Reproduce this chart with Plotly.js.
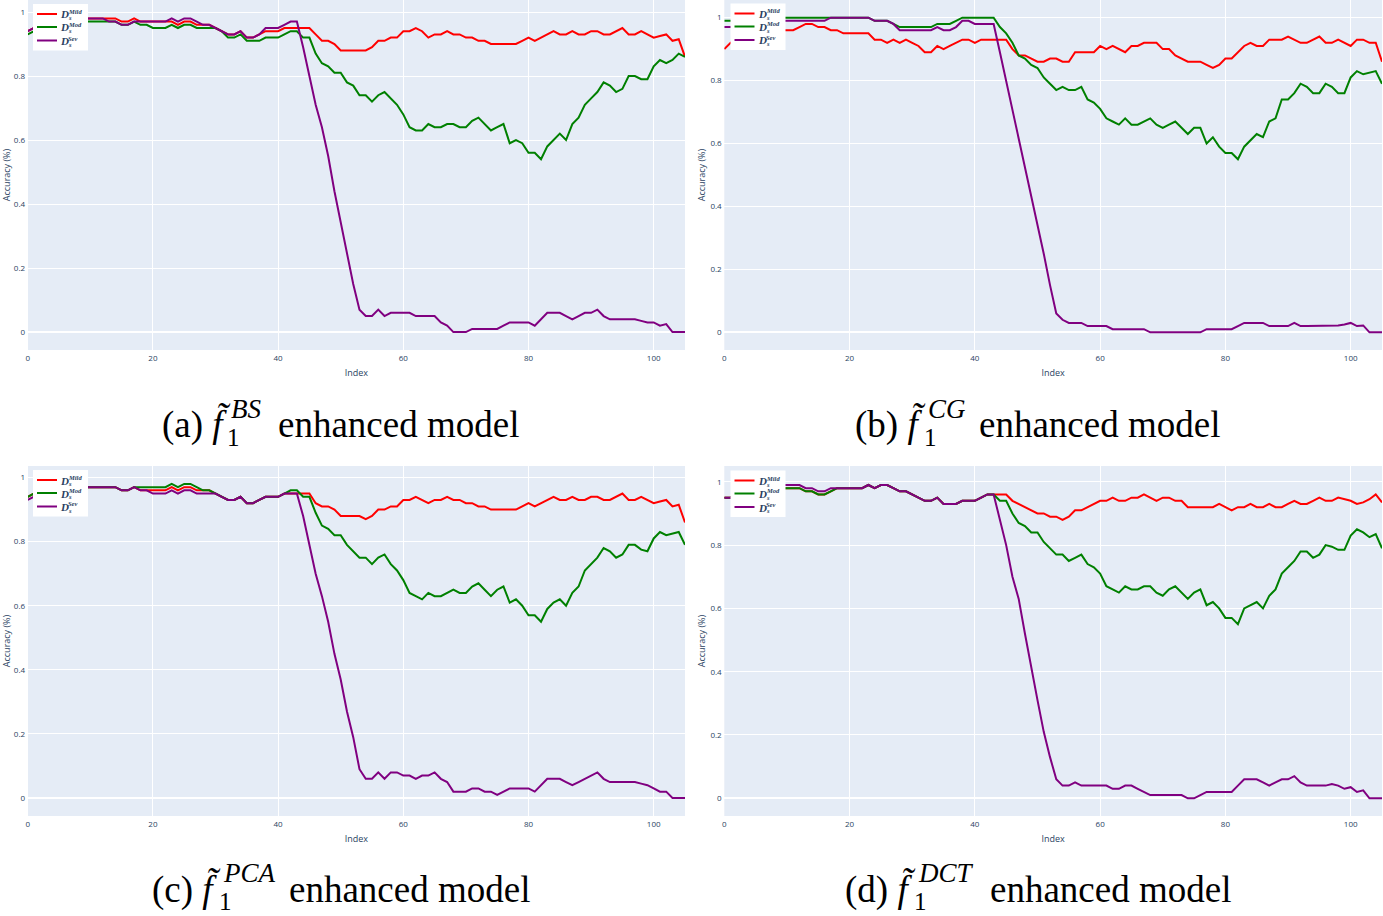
<!DOCTYPE html>
<html>
<head>
<meta charset="utf-8">
<script src="https://cdn.plot.ly/plotly-3.0.1.min.js"></script>
<style>html,body{margin:0;padding:0;background:#fff;}#chart{width:1383px;height:916px;}</style>
</head>
<body>
<div id="chart"></div>
<script>
// ---- data (accuracy per index, 0..105) ----
const seriesBase = ['D', 'D', 'D'];
const seriesSub = ['s', 's', 's'];
const seriesSup = ['Mild', 'Mod', 'Sev'];
const seriesColors = ['red', 'green', 'purple'];
const xTickVals = [0, 20, 40, 60, 80, 100];
const yTickVals = [0, 0.2, 0.4, 0.6, 0.8, 1];

const aRed = [0.94,0.95,0.96,0.96,0.97,0.97,0.97,0.98,0.98,0.98, 0.98,0.98,0.98,0.98,0.98,0.97,0.97,0.98,0.97,0.97,
0.97,0.97,0.97,0.97,0.96,0.97,0.97,0.96,0.96,0.96, 0.95,0.94,0.93,0.93,0.94,0.92,0.92,0.93,0.94,0.94,
0.94,0.95,0.95,0.95,0.95,0.95,0.93,0.91,0.91,0.90, 0.88,0.88,0.88,0.88,0.88,0.89,0.91,0.91,0.92,0.92,
0.94,0.94,0.95,0.94,0.92,0.93,0.93,0.94,0.93,0.93, 0.92,0.92,0.91,0.91,0.90,0.90,0.90,0.90,0.90,0.91,
0.92,0.91,0.92,0.93,0.94,0.93,0.93,0.94,0.93,0.93, 0.94,0.94,0.93,0.93,0.94,0.95,0.93,0.93,0.94,0.93,
0.92,0.925,0.93,0.91,0.915,0.86];
const aGreen = [0.93,0.94,0.95,0.95,0.96,0.96,0.96,0.97,0.97,0.97, 0.97,0.97,0.97,0.97,0.97,0.96,0.96,0.97,0.96,0.96,
0.95,0.95,0.95,0.96,0.95,0.96,0.96,0.95,0.95,0.95, 0.95,0.94,0.92,0.92,0.93,0.91,0.91,0.91,0.92,0.92,
0.92,0.93,0.94,0.94,0.92,0.92,0.87,0.84,0.83,0.81, 0.81,0.78,0.77,0.74,0.74,0.72,0.74,0.75,0.73,0.71,
0.68,0.64,0.63,0.63,0.65,0.64,0.64,0.65,0.65,0.64, 0.64,0.66,0.67,0.65,0.63,0.64,0.65,0.59,0.60,0.59,
0.56,0.56,0.54,0.58,0.60,0.62,0.60,0.65,0.67,0.71, 0.73,0.75,0.78,0.77,0.75,0.76,0.80,0.80,0.79,0.79,
0.83,0.85,0.84,0.85,0.87,0.86];
const aPurple = [0.94,0.95,0.96,0.96,0.97,0.97,0.97,0.98,0.98,0.98, 0.98,0.98,0.98,0.97,0.97,0.96,0.96,0.97,0.97,0.97,
0.97,0.97,0.97,0.98,0.97,0.98,0.98,0.97,0.96,0.96, 0.95,0.94,0.93,0.93,0.94,0.92,0.92,0.93,0.95,0.95,
0.95,0.96,0.97,0.97,0.89,0.80,0.71,0.64,0.55,0.44, 0.34,0.24,0.15,0.07,0.05,0.05,0.07,0.05,0.06,0.06,
0.06,0.06,0.05,0.05,0.05,0.05,0.03,0.02,0.00,0.00, 0.00,0.01,0.01,0.01,0.01,0.01,0.02,0.03,0.03,0.03,
0.03,0.02,0.04,0.06,0.06,0.06,0.05,0.04,0.05,0.06, 0.06,0.07,0.05,0.04,0.04,0.04,0.04,0.04,0.035,0.03,
0.03,0.02,0.025,0.00,0.00,0.00];

const bRed = [0.90,0.92,0.93,0.94,0.95,0.95,0.96,0.96,0.96,0.96, 0.96,0.96,0.97,0.98,0.98,0.97,0.97,0.96,0.96,0.95,
0.95,0.95,0.95,0.95,0.93,0.93,0.92,0.93,0.92,0.93, 0.92,0.91,0.89,0.89,0.91,0.90,0.91,0.92,0.93,0.93,
0.92,0.93,0.93,0.93,0.93,0.93,0.90,0.88,0.88,0.87, 0.86,0.86,0.87,0.87,0.86,0.86,0.89,0.89,0.89,0.89,
0.91,0.90,0.91,0.90,0.89,0.91,0.91,0.92,0.92,0.92, 0.90,0.90,0.88,0.87,0.86,0.86,0.86,0.85,0.84,0.85,
0.87,0.87,0.89,0.91,0.92,0.91,0.91,0.93,0.93,0.93, 0.94,0.93,0.92,0.92,0.93,0.94,0.92,0.92,0.93,0.92,
0.91,0.93,0.93,0.92,0.92,0.86];
const bGreen = [0.99,0.99,0.99,1.0,1.0,1.0,1.0,1.0,1.0,1.0, 1.0,1.0,1.0,1.0,1.0,1.0,1.0,1.0,1.0,1.0,
1.0,1.0,1.0,1.0,0.99,0.99,0.99,0.98,0.97,0.97, 0.97,0.97,0.97,0.97,0.98,0.98,0.98,0.99,1.0,1.0,
1.0,1.0,1.0,1.0,0.97,0.95,0.92,0.88,0.87,0.85, 0.84,0.81,0.79,0.77,0.78,0.77,0.77,0.78,0.74,0.73,
0.71,0.68,0.67,0.66,0.68,0.66,0.66,0.67,0.68,0.66, 0.65,0.66,0.67,0.65,0.63,0.65,0.65,0.60,0.62,0.59,
0.57,0.57,0.55,0.59,0.61,0.63,0.62,0.67,0.68,0.74, 0.74,0.76,0.79,0.78,0.76,0.76,0.79,0.78,0.76,0.76,
0.81,0.83,0.82,0.825,0.83,0.79];
const bPurple = [0.97,0.97,0.98,0.98,0.98,0.99,0.99,0.99,0.99,0.99, 0.99,0.99,0.99,0.99,0.99,0.99,0.99,1.0,1.0,1.0,
1.0,1.0,1.0,1.0,0.99,0.99,0.99,0.98,0.96,0.96, 0.96,0.96,0.96,0.96,0.97,0.96,0.96,0.97,0.99,0.99,
0.98,0.98,0.98,0.98,0.89,0.80,0.70,0.61,0.52,0.43, 0.34,0.25,0.15,0.06,0.04,0.03,0.03,0.03,0.02,0.02,
0.02,0.02,0.01,0.01,0.01,0.01,0.01,0.01,0.00,0.00, 0.00,0.00,0.00,0.00,0.00,0.00,0.00,0.01,0.01,0.01,
0.01,0.01,0.02,0.03,0.03,0.03,0.03,0.02,0.02,0.02, 0.02,0.03,0.02,0.02,0.02,0.02,0.02,0.02,0.022,0.025,
0.03,0.02,0.022,0.00,0.00,0.00];

const cRed = [0.94,0.95,0.95,0.96,0.96,0.96,0.97,0.97,0.97,0.97, 0.97,0.97,0.97,0.97,0.97,0.96,0.96,0.97,0.96,0.96,
0.96,0.96,0.96,0.97,0.96,0.97,0.97,0.96,0.96,0.96, 0.95,0.94,0.93,0.93,0.94,0.92,0.92,0.93,0.94,0.94,
0.94,0.95,0.95,0.95,0.95,0.95,0.92,0.91,0.91,0.90, 0.88,0.88,0.88,0.88,0.87,0.88,0.90,0.90,0.91,0.91,
0.93,0.93,0.94,0.93,0.92,0.93,0.93,0.94,0.93,0.93, 0.92,0.92,0.91,0.91,0.90,0.90,0.90,0.90,0.90,0.91,
0.92,0.91,0.92,0.93,0.94,0.93,0.93,0.94,0.93,0.93, 0.94,0.94,0.93,0.93,0.94,0.95,0.93,0.93,0.94,0.93,
0.92,0.925,0.93,0.91,0.915,0.86];
const cGreen = [0.94,0.95,0.95,0.96,0.96,0.96,0.97,0.97,0.97,0.97, 0.97,0.97,0.97,0.97,0.97,0.96,0.96,0.97,0.97,0.97,
0.97,0.97,0.97,0.98,0.97,0.98,0.98,0.97,0.96,0.96, 0.95,0.94,0.93,0.93,0.94,0.92,0.92,0.93,0.94,0.94,
0.94,0.95,0.96,0.96,0.94,0.94,0.89,0.85,0.84,0.82, 0.82,0.79,0.77,0.75,0.75,0.73,0.75,0.76,0.73,0.71,
0.68,0.64,0.63,0.62,0.64,0.63,0.63,0.64,0.65,0.64, 0.64,0.66,0.67,0.65,0.63,0.65,0.66,0.61,0.62,0.60,
0.57,0.57,0.55,0.59,0.61,0.62,0.60,0.64,0.66,0.71, 0.73,0.75,0.78,0.77,0.75,0.76,0.79,0.79,0.775,0.77,
0.81,0.83,0.82,0.825,0.83,0.79];
const cPurple = [0.93,0.94,0.95,0.95,0.96,0.96,0.97,0.97,0.97,0.97, 0.97,0.97,0.97,0.97,0.97,0.96,0.96,0.97,0.96,0.96,
0.95,0.95,0.95,0.96,0.95,0.96,0.96,0.95,0.95,0.95, 0.95,0.94,0.93,0.93,0.94,0.92,0.92,0.93,0.94,0.94,
0.94,0.95,0.95,0.95,0.88,0.79,0.70,0.63,0.55,0.45, 0.37,0.27,0.19,0.09,0.06,0.06,0.08,0.06,0.08,0.08,
0.07,0.07,0.06,0.07,0.07,0.08,0.06,0.05,0.02,0.02, 0.02,0.03,0.03,0.02,0.02,0.01,0.02,0.03,0.03,0.03,
0.03,0.02,0.04,0.06,0.06,0.06,0.05,0.04,0.05,0.06, 0.07,0.08,0.06,0.05,0.05,0.05,0.05,0.05,0.045,0.04,
0.03,0.02,0.02,0.00,0.00,0.00];

const dRed = [0.95,0.95,0.96,0.96,0.97,0.97,0.97,0.98,0.98,0.98, 0.98,0.98,0.98,0.97,0.97,0.96,0.96,0.97,0.98,0.98,
0.98,0.98,0.98,0.99,0.98,0.99,0.99,0.98,0.97,0.97, 0.96,0.95,0.94,0.94,0.95,0.93,0.93,0.93,0.94,0.94,
0.94,0.95,0.96,0.96,0.96,0.96,0.94,0.93,0.92,0.91, 0.90,0.90,0.89,0.89,0.88,0.89,0.91,0.91,0.92,0.93,
0.94,0.94,0.95,0.94,0.94,0.95,0.95,0.96,0.95,0.94, 0.95,0.95,0.94,0.94,0.92,0.92,0.92,0.92,0.92,0.93,
0.92,0.91,0.92,0.92,0.93,0.92,0.92,0.93,0.92,0.92, 0.93,0.94,0.93,0.93,0.94,0.95,0.94,0.94,0.95,0.945,
0.94,0.93,0.935,0.945,0.96,0.935];
const dGreen = [0.95,0.95,0.96,0.96,0.97,0.97,0.97,0.98,0.98,0.98, 0.98,0.98,0.98,0.97,0.97,0.96,0.96,0.97,0.98,0.98,
0.98,0.98,0.98,0.99,0.98,0.99,0.99,0.98,0.97,0.97, 0.96,0.95,0.94,0.94,0.95,0.93,0.93,0.93,0.94,0.94,
0.94,0.95,0.96,0.96,0.94,0.94,0.90,0.87,0.86,0.84, 0.84,0.81,0.79,0.77,0.77,0.75,0.76,0.77,0.74,0.73,
0.71,0.67,0.66,0.65,0.67,0.66,0.66,0.67,0.67,0.65, 0.64,0.66,0.67,0.65,0.63,0.65,0.66,0.61,0.62,0.60,
0.57,0.57,0.55,0.60,0.61,0.62,0.60,0.64,0.66,0.71, 0.73,0.75,0.78,0.78,0.76,0.77,0.80,0.795,0.785,0.785,
0.83,0.85,0.84,0.825,0.835,0.79];
const dPurple = [0.95,0.95,0.96,0.97,0.97,0.98,0.98,0.99,0.99,0.99, 0.99,0.99,0.99,0.98,0.98,0.97,0.97,0.98,0.98,0.98,
0.98,0.98,0.98,0.99,0.98,0.99,0.99,0.98,0.97,0.97, 0.96,0.95,0.94,0.94,0.95,0.93,0.93,0.93,0.94,0.94,
0.94,0.95,0.96,0.96,0.88,0.80,0.70,0.63,0.52,0.41, 0.31,0.21,0.13,0.06,0.04,0.04,0.05,0.04,0.04,0.04,
0.04,0.04,0.03,0.03,0.04,0.04,0.03,0.02,0.01,0.01, 0.01,0.01,0.01,0.01,0.00,0.00,0.01,0.02,0.02,0.02,
0.02,0.02,0.04,0.06,0.06,0.06,0.05,0.04,0.05,0.06, 0.06,0.07,0.05,0.04,0.04,0.04,0.04,0.045,0.04,0.03,
0.035,0.02,0.025,0.00,0.00,0.00];

const captionLetters = ['(a)', '(b)', '(c)', '(d)'];
const captionSups = ['BS', 'CG', 'PCA', 'DCT'];

// ---- layout geometry (pixels) ----
const W = 1383, H = 916;
const px = v => v / W;
const py = v => 1 - v / H;
const panels = [
  {data: [aRed, aGreen, aPurple], x0: 27.7, x1: 685, y0: 0, y1: 350, yr: [-0.056, 1.0375], lx: 33, ly: 4},
  {data: [bRed, bGreen, bPurple], x0: 724.3, x1: 1382, y0: 0, y1: 350, yr: [-0.056, 1.056], lx: 730.5, ly: 3.5},
  {data: [cRed, cGreen, cPurple], x0: 27.7, x1: 685, y0: 466, y1: 816, yr: [-0.056, 1.036], lx: 33, ly: 470},
  {data: [dRed, dGreen, dPurple], x0: 724.3, x1: 1382, y0: 466, y1: 816, yr: [-0.056, 1.05], lx: 730.5, ly: 470.5}
];
const captions = [
  {cx: 233, sx: 229, bx: 276, cy: 425},
  {cx: 928, sx: 926, bx: 977, cy: 425},
  {cx: 223, sx: 221, bx: 287, cy: 889},
  {cx: 918, sx: 916, bx: 988, cy: 889}
];

const traces = [];
const shapes = [];
const annotations = [];
const layout = {
  width: W, height: H,
  margin: {l: 0, r: 0, t: 0, b: 0},
  paper_bgcolor: 'white',
  plot_bgcolor: '#E5ECF6',
  font: {family: '"Open Sans", Arial, sans-serif', color: '#2a3f5f', size: 8},
  showlegend: false,
  shapes: shapes,
  annotations: annotations
};
const P = (x, y) => ({x: px(x), y: py(y), xref: 'paper', yref: 'paper', showarrow: false});

panels.forEach((p, k) => {
  const n = k + 1;
  const xa = 'x' + (n === 1 ? '' : n), ya = 'y' + (n === 1 ? '' : n);
  const idx = p.data[0].map((_, i) => i);
  p.data.forEach((vals, s) => {
    traces.push({
      x: idx, y: vals, type: 'scatter', mode: 'lines',
      name: seriesBase[s] + seriesSub[s] + seriesSup[s],
      line: {color: seriesColors[s], width: 2},
      xaxis: xa, yaxis: ya
    });
  });
  const axCommon = {gridcolor: 'white', linecolor: 'white', zerolinecolor: 'white', zerolinewidth: 2,
    tickfont: {size: 8, color: '#2a3f5f'}, ticks: '', automargin: false};
  layout['xaxis' + (n === 1 ? '' : n)] = Object.assign({}, axCommon, {
    domain: [px(p.x0), px(p.x1)], anchor: ya, range: [0, 105],
    tickvals: xTickVals, showgrid: true, zeroline: false,
    title: {text: 'Index', font: {size: 9}, standoff: 8}
  });
  layout['yaxis' + (n === 1 ? '' : n)] = Object.assign({}, axCommon, {
    domain: [py(p.y1), py(p.y0)], anchor: xa, range: p.yr,
    tickvals: yTickVals, zeroline: true,
    title: {text: 'Accuracy (%)', font: {size: 9}, standoff: 3}
  });

  // legend box drawn inside the plot (compact, like the reference)
  shapes.push({type: 'rect', xref: 'paper', yref: 'paper', x0: px(p.lx), x1: px(p.lx + 55),
    y0: py(p.ly), y1: py(p.ly + 46.5), fillcolor: 'white', line: {width: 0}, layer: 'above'});
  const rowY = [10, 23, 36.5];
  seriesColors.forEach((col, s) => {
    const yy = p.ly + rowY[s];
    shapes.push({type: 'line', xref: 'paper', yref: 'paper', x0: px(p.lx + 4), x1: px(p.lx + 24),
      y0: py(yy), y1: py(yy), line: {color: col, width: 2}, layer: 'above'});
    annotations.push(Object.assign(P(p.lx + 26, yy + 0.5), {text: '<b><i>' + seriesBase[s] + '</i></b>',
      xanchor: 'left', yanchor: 'middle', borderpad: 0,
      font: {family: '"Liberation Serif", serif', size: 11, color: '#2a3f5f'}}));
    annotations.push(Object.assign(P(p.lx + 34, yy - 2.5), {text: '<b><i>' + seriesSup[s] + '</i></b>',
      xanchor: 'left', yanchor: 'middle', borderpad: 0,
      font: {family: '"Liberation Serif", serif', size: 6.5, color: '#2a3f5f'}}));
    annotations.push(Object.assign(P(p.lx + 34, yy + 3.5), {text: '<b><i>' + seriesSub[s] + '</i></b>',
      xanchor: 'left', yanchor: 'middle', borderpad: 0,
      font: {family: '"Liberation Serif", serif', size: 6.5, color: '#2a3f5f'}}));
  });

  // caption below each panel
  const c = captions[k];
  const capFont = {family: '"Liberation Serif", "Times New Roman", serif', size: 37, color: 'black'};
  annotations.push(
    Object.assign(P(c.cx, c.cy), {text: captionLetters[k] + ' <i>f\u0303</i>', xanchor: 'right', yanchor: 'middle', font: capFont}),
    Object.assign(P(c.sx, c.cy - 16), {text: '<i>' + captionSups[k] + '</i>', xanchor: 'left', yanchor: 'middle',
      font: Object.assign({}, capFont, {size: 27})}),
    Object.assign(P(c.sx - 4, c.cy + 12), {text: '1', xanchor: 'left', yanchor: 'middle',
      font: Object.assign({}, capFont, {size: 25})}),
    Object.assign(P(c.bx, c.cy), {text: 'enhanced model', xanchor: 'left', yanchor: 'middle', font: capFont})
  );
});

Plotly.newPlot('chart', traces, layout, {displayModeBar: false, staticPlot: true});
</script>
</body>
</html>
